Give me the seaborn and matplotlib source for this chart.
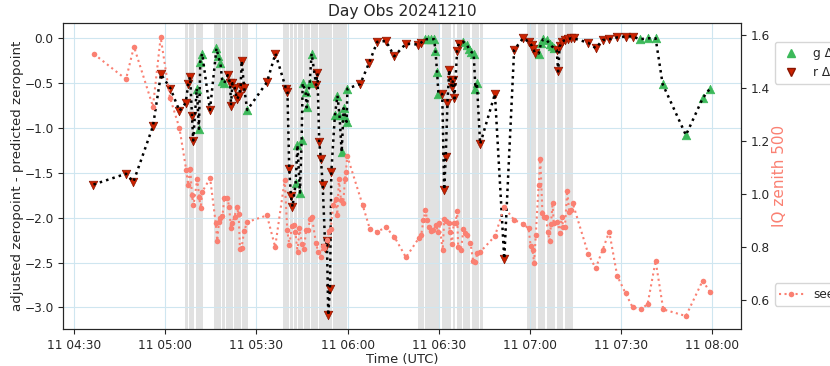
import pandas as pd
import matplotlib
matplotlib.use("Agg")
import matplotlib.pyplot as plt
import matplotlib.dates as mdates
from matplotlib.lines import Line2D
import seaborn as sns

DATE = "2024-12-11"

# Zeropoint offset per exposure (UTC time, band, adjusted - predicted zeropoint)
zp_time = [
    "04:36:25", "04:47:07", "04:49:34", "04:55:59", "04:58:37", "05:01:45", "05:04:42", "05:06:45",
    "05:07:36", "05:08:13", "05:08:49", "05:09:13", "05:10:24", "05:11:07", "05:11:33", "05:12:10",
    "05:14:44", "05:16:53", "05:17:28", "05:18:11", "05:18:47", "05:19:26", "05:20:34", "05:21:23",
    "05:21:39", "05:22:08", "05:22:52", "05:23:37", "05:24:17", "05:24:50", "05:25:10", "05:25:59",
    "05:27:00", "05:33:29", "05:36:17", "05:39:44", "05:40:14", "05:40:49", "05:41:23", "05:41:53",
    "05:42:56", "05:43:31", "05:44:21", "05:44:54", "05:45:14", "05:46:13", "05:46:33", "05:47:32",
    "05:48:11", "05:49:40", "05:50:06", "05:50:41", "05:51:15", "05:51:49", "05:52:40", "05:53:13",
    "05:53:39", "05:54:13", "05:54:40", "05:55:51", "05:56:41", "05:57:20", "05:58:04", "05:58:43",
    "05:59:09", "05:59:42", "05:59:58", "06:04:11", "06:07:08", "06:09:46", "06:12:38", "06:15:22",
    "06:19:13", "06:23:19", "06:24:09", "06:25:24", "06:26:31", "06:27:36", "06:28:29", "06:28:55",
    "06:29:28", "06:29:54", "06:31:09", "06:31:47", "06:32:18", "06:32:52", "06:33:27", "06:33:57",
    "06:34:13", "06:34:44", "06:35:10", "06:36:03", "06:36:35", "06:38:08", "06:39:13", "06:40:00",
    "06:40:41", "06:41:29", "06:42:04", "06:42:34", "06:43:37", "06:48:29", "06:51:33", "06:54:48",
    "06:57:42", "06:59:46", "07:00:34", "07:01:05", "07:01:38", "07:02:53", "07:03:41", "07:04:23",
    "07:05:30", "07:06:29", "07:07:14", "07:07:54", "07:08:47", "07:09:18", "07:09:46", "07:10:26",
    "07:11:31", "07:12:36", "07:13:35", "07:14:23", "07:19:11", "07:21:37", "07:23:55", "07:26:05",
    "07:28:43", "07:31:29", "07:33:47", "07:36:11", "07:38:43", "07:41:21", "07:43:39", "07:51:19",
    "07:56:49", "07:59:13",
]
zp_band = (
    ["r"] * 12 + ["g"] * 4 + ["r"] * 1 + ["g"] * 5 + ["r"] * 10 + ["g"] * 1 + ["r"] * 7
    + ["g"] * 9 + ["r"] * 10 + ["g"] * 8 + ["r"] * 8 + ["g"] * 7 + ["r"] * 11 + ["g"] * 7
    + ["r"] * 9 + ["g"] * 7 + ["r"] * 15 + ["g"] * 7
)
zp_value = [
    -1.63, -1.51, -1.60, -0.98, -0.40, -0.56, -0.81, -0.72, -0.51, -0.43, -0.87, -1.14,
    -0.56, -1.01, -0.26, -0.17,
    -0.80,
    -0.11, -0.20, -0.28, -0.48, -0.50,
    -0.41, -0.50, -0.75, -0.50, -0.55, -0.68, -0.64, -0.54, -0.25, -0.55,
    -0.80,
    -0.49, -0.17, -0.56, -0.60, -1.46, -1.76, -1.88,
    -1.61, -1.19, -1.72, -1.13, -0.50, -0.60, -0.77, -0.50, -0.17,
    -0.52, -0.39, -1.16, -1.35, -1.63, -2.34, -2.26, -3.09, -2.79, -1.49,
    -0.85, -0.64, -0.85, -1.27, -0.78, -0.88, -0.93, -0.56,
    -0.51, -0.27, -0.04, -0.03, -0.20, -0.06, -0.07, -0.05,
    -0.01, -0.01, -0.01, -0.01, -0.14, -0.38, -0.62,
    -0.62, -1.69, -1.32, -0.72, -0.35, -0.47, -0.54, -0.47, -0.67, -0.14, -0.06,
    -0.04, -0.07, -0.12, -0.15, -0.17, -0.56, -0.50,
    -1.18, -0.62, -2.46, -0.13, 0.00, -0.04, -0.08, -0.12, -0.16,
    -0.17, -0.05, -0.01, -0.02, -0.06, -0.09, -0.11,
    -0.13, -0.37, -0.09, -0.04, -0.02, -0.01, 0.00, 0.00, -0.05, -0.11, -0.02, -0.01, 0.01, 0.02, 0.02,
    -0.01, 0.00, 0.00, -0.51, -1.08, -0.67, -0.56,
]

# Delivered image quality scaled to zenith at 500 nm
seeing_time = [
    "04:36:35", "04:47:07", "04:49:44", "04:55:59", "04:58:31", "05:01:35", "05:04:42", "05:06:55",
    "05:07:34", "05:08:17", "05:08:47", "05:09:19", "05:10:34", "05:11:11", "05:11:41", "05:12:14",
    "05:14:48", "05:16:37", "05:17:08", "05:17:42", "05:18:11", "05:18:51", "05:19:28", "05:20:30",
    "05:21:03", "05:21:37", "05:22:04", "05:22:50", "05:23:31", "05:24:11", "05:24:36", "05:25:10",
    "05:25:59", "05:27:00", "05:33:29", "05:36:11",
    "05:39:20", "05:40:10", "05:40:53", "05:41:39", "05:42:32", "05:42:52", "05:43:33", "05:44:11",
    "05:45:00", "05:45:39", "05:46:23", "05:46:58", "05:47:42", "05:48:17", "05:49:36", "05:50:22",
    "05:51:09", "05:51:49", "05:52:20", "05:53:08", "05:53:59", "05:54:26", "05:55:18", "05:56:05",
    "05:56:37", "05:57:10", "05:57:50", "05:58:35", "05:59:09", "05:59:28", "05:59:54",
    "06:04:58", "06:07:22", "06:09:46", "06:12:38", "06:15:22", "06:19:13",
    "06:23:29", "06:24:15", "06:24:58", "06:25:38", "06:26:11", "06:26:47", "06:27:32", "06:28:11",
    "06:29:05", "06:29:48", "06:30:10", "06:31:17", "06:31:49", "06:32:28", "06:33:13", "06:33:45",
    "06:34:21", "06:34:56", "06:35:32", "06:36:03", "06:36:23", "06:37:18", "06:38:08", "06:38:47",
    "06:39:21", "06:40:26", "06:41:19", "06:41:58", "06:42:44", "06:43:37",
    "06:48:29", "06:51:33", "06:54:48", "06:57:42", "06:59:34", "07:00:14", "07:00:53", "07:01:23",
    "07:01:55", "07:02:52", "07:03:25", "07:04:07", "07:04:40", "07:05:20", "07:05:55", "07:06:29",
    "07:06:55", "07:07:28", "07:07:48", "07:09:03", "07:09:52", "07:10:26", "07:10:57", "07:11:31",
    "07:12:16", "07:12:56", "07:13:27", "07:14:03",
    "07:19:11", "07:21:37", "07:23:55", "07:26:05", "07:28:43", "07:31:29", "07:33:47", "07:36:25",
    "07:38:43", "07:41:21", "07:43:51", "07:51:19", "07:56:49", "07:59:13",
]
seeing_value = [
    1.528, 1.433, 1.556, 1.330, 1.591, 1.364, 1.249, 1.092, 1.035, 1.096, 0.998, 0.958,
    1.057, 0.990, 0.947, 1.010, 1.060, 0.892, 0.825, 0.895, 0.912, 0.918, 0.985, 0.985,
    0.951, 0.874, 0.892, 0.915, 0.951, 0.926, 0.795, 0.799, 0.861, 0.895, 0.920, 0.801,
    1.054, 0.865, 0.808, 0.880, 0.884, 0.857, 0.782, 0.873, 0.812, 0.793, 0.865, 0.865,
    0.906, 0.914, 0.816, 0.783, 0.764, 0.805, 0.796, 0.827, 0.862, 0.868, 0.959, 0.981,
    0.922, 1.056, 0.978, 0.966, 1.056, 1.085, 1.144,
    0.959, 0.868, 0.859, 0.875, 0.840, 0.762,
    0.835, 0.847, 0.902, 0.940, 0.903, 0.875, 0.861, 0.864, 0.883, 0.857, 0.891, 0.789,
    0.906, 0.898, 0.893, 0.856, 0.811, 0.891, 0.893, 0.935, 0.800, 0.788, 0.868, 0.853,
    0.845, 0.817, 0.749, 0.744, 0.779, 0.782,
    0.842, 0.951, 0.903, 0.888, 0.871, 0.804, 0.788, 0.742, 0.846, 1.033, 1.131, 0.928,
    0.913, 0.914, 0.857, 0.825, 0.888, 0.968, 0.893, 0.896, 0.855, 0.914, 0.876, 0.877,
    1.013, 0.932, 0.940, 0.967,
    0.775, 0.721, 0.790, 0.859, 0.692, 0.626, 0.574, 0.566, 0.586, 0.749, 0.566, 0.541,
    0.674, 0.632,
]

# Shaded time windows
span_start = [
    "05:06:27", "05:07:42", "05:10:04",
    "05:16:13", "05:18:47", "05:20:04", "05:21:49", "05:22:44", "05:25:22", "05:26:15",
    "05:38:55", "05:41:09", "05:42:22", "05:43:51", "05:45:49", "05:47:58", "05:50:45", "05:55:16", "05:58:19",
    "06:23:09", "06:25:22", "06:31:03", "06:34:34", "06:35:59", "06:37:58", "06:40:55", "06:43:39",
    "06:59:07", "07:02:44", "07:05:41", "07:08:59", "07:11:31", "07:12:16",
]
span_end = [
    "05:07:34", "05:09:28", "05:12:22",
    "05:18:25", "05:19:44", "05:21:35", "05:22:28", "05:24:56", "05:26:09", "05:27:14",
    "05:40:53", "05:42:07", "05:43:31", "05:45:26", "05:47:34", "05:50:26", "05:54:48", "05:58:05", "05:59:58",
    "06:25:02", "06:30:30", "06:34:07", "06:35:26", "06:37:38", "06:40:22", "06:43:08", "06:44:26",
    "07:01:58", "07:04:56", "07:08:13", "07:10:57", "07:12:04", "07:14:03",
]


def stamp(t):
    return pd.to_datetime(f"{DATE} {t}")


zp = pd.DataFrame({
    "time": [stamp(t) for t in zp_time],
    "band": zp_band,
    "dzp": zp_value,
})
seeing = pd.DataFrame({
    "time": [stamp(t) for t in seeing_time],
    "iq": seeing_value,
})

sns.set_style("ticks")
plt.rcParams["font.family"] = ["DejaVu Sans"]

GREEN = "#3cb95a"
RED = "#cc2200"
SALMON = "salmon"

fig = plt.figure(figsize=(8.3, 3.66), dpi=100)
ax = fig.add_axes([0.0763, 0.1003, 0.8161, 0.8377])

for s, e in zip(span_start, span_end):
    ax.axvspan(stamp(s), stamp(e), color="grey", alpha=0.23, lw=0, zorder=0)

ax.grid(True, color="#cfe6f0", lw=0.8, zorder=0.5)
ax.set_axisbelow(True)

sns.scatterplot(data=zp[zp["band"] == "g"], x="time", y="dzp", marker="^", s=38,
                color=GREEN, edgecolor=GREEN, linewidth=0.5, ax=ax, zorder=3, legend=False)
sns.scatterplot(data=zp[zp["band"] == "r"], x="time", y="dzp", marker="v", s=38,
                color=RED, edgecolor="#8a1500", linewidth=0.5, ax=ax, zorder=3, legend=False)
sns.lineplot(data=zp, x="time", y="dzp", sort=False, estimator=None, color="black",
             linestyle=":", lw=1.8, ax=ax, zorder=4)

ax.set_ylim(-3.244, 0.174)
ax.set_xlim(stamp("04:26:30"), stamp("08:09:20"))
ax.set_ylabel("adjusted zeropoint - predicted zeropoint", fontsize=9.6, labelpad=0.5)
ax.set_xlabel("Time (UTC)", fontsize=9.4, labelpad=0.5)
ax.set_title("Day Obs 20241210", fontsize=11.2, pad=5)
ax.xaxis.set_major_locator(mdates.MinuteLocator(byminute=[0, 30]))
ax.xaxis.set_major_formatter(mdates.DateFormatter("%d %H:%M"))
ax.tick_params(labelsize=8.7)

ax2 = ax.twinx()
sns.lineplot(data=seeing, x="time", y="iq", sort=False, estimator=None, color=SALMON,
             linestyle=":", lw=1.5, marker="o", markersize=4, markeredgewidth=0,
             ax=ax2, zorder=2)
ax2.set_ylim(0.491, 1.646)
ax2.set_ylabel("IQ zenith 500", color=SALMON, fontsize=11, labelpad=1.5)
ax2.tick_params(labelsize=8.7)
ax2.set_xlim(stamp("04:26:30"), stamp("08:09:20"))

zp_handles = [
    Line2D([], [], marker="^", color=GREEN, ls="none", markersize=6),
    Line2D([], [], marker="v", color=RED, markeredgecolor="#8a1500", ls="none", markersize=6),
]
ax.legend(zp_handles, ["g \u0394zeropoint", "r \u0394zeropoint"], loc="upper left",
          bbox_to_anchor=(1.041, 0.957), fontsize=8.7, frameon=True)
iq_handle = [Line2D([], [], color=SALMON, ls=":", lw=1.5, marker="o", markersize=4,
                    markeredgewidth=0)]
ax2.legend(iq_handle, ["seeing"], loc="upper left", bbox_to_anchor=(1.041, 0.17),
           fontsize=8.7, frameon=True)

fig.savefig("out.png", dpi=100)
